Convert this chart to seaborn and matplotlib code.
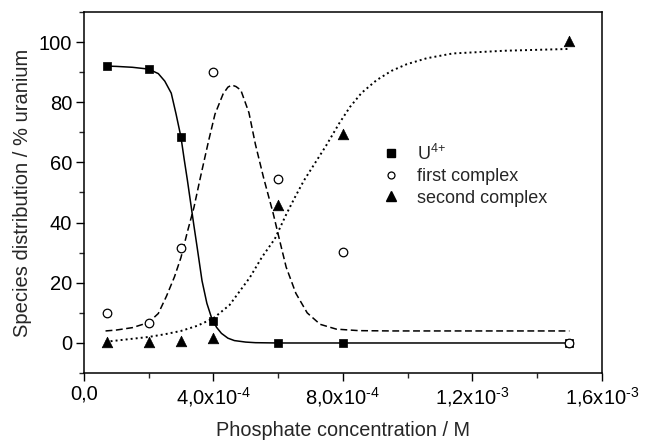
import matplotlib
matplotlib.use("Agg")
import matplotlib.pyplot as plt
from matplotlib.lines import Line2D
from matplotlib.ticker import FixedLocator, MultipleLocator
import seaborn as sns
import numpy as np

# ---- measured data ----
conc = [7e-5, 2e-4, 3e-4, 4e-4, 6e-4, 8e-4, 1.5e-3]
u4_pts = [92, 91, 68.4, 7.3, 0, 0, 0]
first_pts = [9.8, 6.5, 31.5, 90.2, 54.6, 30.2, 0]
second_pts = [0.3, 0.3, 0.5, 1.7, 45.8, 69.6, 100.3]

# fitted curves
u4_fit_x = [7e-5, 1.0e-4, 1.5e-4, 2.0e-4, 2.3e-4, 2.5e-4, 2.7e-4, 2.85e-4, 3.0e-4,
            3.1e-4, 3.2e-4, 3.3e-4, 3.4e-4, 3.5e-4, 3.65e-4, 3.8e-4, 3.95e-4, 4.1e-4,
            4.25e-4, 4.45e-4, 4.65e-4, 5.0e-4, 5.3e-4, 6.0e-4, 8.0e-4, 1.5e-3]
u4_fit_y = [92, 91.9, 91.6, 91, 89.5, 87, 83, 76, 68.4,
            61, 54, 46.5, 39, 31.8, 20.7, 13.2, 8.2, 5.2,
            3.2, 1.6, 0.8, 0.3, 0.1, 0, 0, 0]

first_fit_x = [6.7e-5, 1.0e-4, 1.5e-4, 2.0e-4, 2.3e-4, 2.55e-4, 2.8e-4, 3.0e-4, 3.2e-4,
               3.4e-4, 3.6e-4, 3.85e-4, 4.05e-4, 4.3e-4, 4.45e-4, 4.57e-4, 4.7e-4, 4.85e-4,
               5.1e-4, 5.3e-4, 5.55e-4, 5.85e-4, 6.05e-4, 6.25e-4, 6.55e-4, 6.9e-4, 7.3e-4,
               7.8e-4, 8.5e-4, 9.5e-4, 1.5e-3]
first_fit_y = [4.0, 4.3, 5.1, 6.8, 9.8, 15.5, 22, 28.4, 37,
               45, 55, 67, 76, 82.7, 85, 85.7, 85.2, 84,
               76.5, 66, 55, 43, 34, 25.2, 16.5, 10, 6.2,
               4.6, 4.1, 4.0, 4.0]

second_fit_x = [6.7e-5, 1.0e-4, 1.5e-4, 2.0e-4, 2.5e-4, 3.0e-4, 3.5e-4, 4.0e-4, 4.5e-4,
                5.13e-4, 5.5e-4, 5.9e-4, 6.26e-4, 6.52e-4, 6.8e-4, 7.48e-4, 7.89e-4,
                8.22e-4, 8.58e-4, 9.04e-4, 9.5e-4, 9.97e-4, 1.059e-3, 1.14e-3, 1.3e-3, 1.5e-3]
second_fit_y = [0.4, 0.8, 1.4, 2.0, 2.9, 4.0, 5.7, 8.2, 12.6,
                21.8, 28.5, 34.6, 42.9, 48.4, 54, 65.5, 73,
                78.4, 83.1, 87.3, 90.4, 92.6, 94.6, 96.2, 97.1, 97.7]

x_ticks = [0, 4e-4, 8e-4, 1.2e-3, 1.6e-3]
x_tick_labels = ['0,0', '4,0x10$^{\\text{-4}}$', '8,0x10$^{\\text{-4}}$',
                 '1,2x10$^{\\text{-3}}$', '1,6x10$^{\\text{-3}}$']
y_ticks = [0, 20, 40, 60, 80, 100]
legend_labels = ['U$^{\\text{4+}}$', 'first complex', 'second complex']

# ---- style ----
sns.set_style('ticks')
plt.rcParams['font.family'] = ['Liberation Sans', 'DejaVu Sans']
plt.rcParams['mathtext.fontset'] = 'custom'
plt.rcParams['mathtext.rm'] = 'Liberation Sans'
plt.rcParams['mathtext.it'] = 'Liberation Sans:italic'
plt.rcParams['mathtext.bf'] = 'Liberation Sans:bold'

fig = plt.figure(figsize=(6.45, 4.41), dpi=100)
ax = fig.add_axes([0.130, 0.154, 0.803, 0.819])

lw = 1.1
sns.lineplot(x=u4_fit_x, y=u4_fit_y, sort=False, estimator=None, color='black',
             linewidth=lw, linestyle='-', ax=ax)
sns.lineplot(x=first_fit_x, y=first_fit_y, sort=False, estimator=None, color='black',
             linewidth=lw, linestyle=(0, (4.5, 2.3)), ax=ax)
sns.lineplot(x=second_fit_x, y=second_fit_y, sort=False, estimator=None, color='black',
             linewidth=1.4, linestyle=(0, (1, 1.6)), ax=ax)

sns.scatterplot(x=conc, y=u4_pts, marker='s', s=40, color='black', edgecolor='black',
                linewidth=0.5, ax=ax, zorder=3)
sns.scatterplot(x=conc, y=first_pts, marker='o', s=38, color='white', edgecolor='black',
                linewidth=0.9, ax=ax, zorder=4)
sns.scatterplot(x=conc, y=second_pts, marker='^', s=58, color='black', edgecolor='black',
                linewidth=0.5, ax=ax, zorder=5)

ax.set_xlim(0, 1.6e-3)
ax.set_ylim(-10, 110)
ax.xaxis.set_major_locator(FixedLocator(x_ticks))
ax.set_xticklabels(x_tick_labels)
ax.xaxis.set_minor_locator(MultipleLocator(2e-4))
ax.yaxis.set_major_locator(FixedLocator(y_ticks))
ax.yaxis.set_minor_locator(MultipleLocator(10))

ax.tick_params(axis='both', which='major', direction='out', length=5.5, width=1,
               labelsize=14.5, colors='black', pad=3)
ax.tick_params(axis='both', which='minor', direction='out', length=3.5, width=1)
ax.tick_params(axis='x', which='major', pad=3)

for sp in ax.spines.values():
    sp.set_visible(True)
    sp.set_color('black')
    sp.set_linewidth(1.1)

ax.set_xlabel('Phosphate concentration / M', fontsize=14.3, labelpad=8.5)
ax.set_ylabel('Species distribution / % uranium', fontsize=14.5, labelpad=5)

handles = [
    Line2D([], [], marker='s', ls='none', color='black', markersize=6),
    Line2D([], [], marker='o', ls='none', markerfacecolor='white', markeredgecolor='black',
           markersize=5, markeredgewidth=0.9),
    Line2D([], [], marker='^', ls='none', color='black', markersize=7),
]
ax.legend(handles, legend_labels, loc='center left', bbox_to_anchor=(0.575, 0.548),
          frameon=False, fontsize=13, handlelength=1.0, handletextpad=0.95,
          labelspacing=0.25, borderpad=0, borderaxespad=0)

fig.savefig('out.png', dpi=100)
